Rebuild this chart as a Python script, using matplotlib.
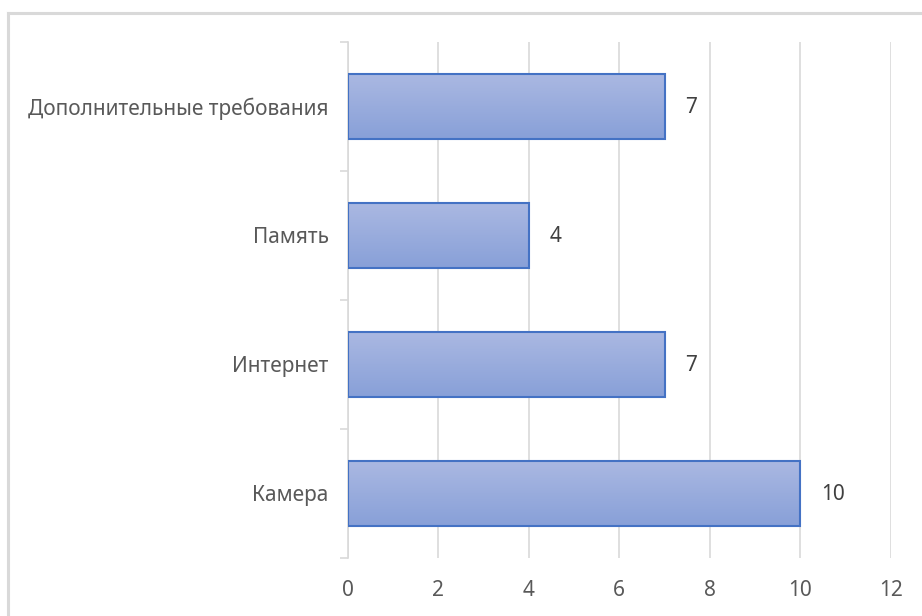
import numpy as np
import matplotlib
matplotlib.use("Agg")
from matplotlib import pyplot as plt
from matplotlib.lines import Line2D

# data
categories = ["Камера", "Интернет", "Память", "Дополнительные требования"]
values = [10, 7, 4, 7]
xticks = [0, 2, 4, 6, 8, 10, 12]

plt.rcParams['font.family'] = ['Noto Sans', 'DejaVu Sans']
grey = "#595959"
fs = 15

fig = plt.figure(figsize=(9.22, 6.16), dpi=100)
ax = fig.add_axes([0.3774, 0.0942, 0.966 - 0.3774, 0.9318 - 0.0942])

# outer chart border (left + top only, the rest is cropped)
fig.add_artist(Line2D([0.0087, 0.0087], [0, 1 - 13 / 616], color="#d9d9d9", lw=2.2,
                      transform=fig.transFigure))
fig.add_artist(Line2D([0.0087, 1], [1 - 13 / 616, 1 - 13 / 616], color="#d9d9d9", lw=2.2,
                      transform=fig.transFigure))

y = np.arange(len(categories))
h = 0.5

# gradient image for bars
top_c = np.array([170, 184, 226]) / 255
bot_c = np.array([136, 160, 216]) / 255
t = np.linspace(0, 1, 64)[:, None]
grad = (top_c * (1 - t) + bot_c * t)[:, None, :]

for yi, v in zip(y, values):
    ax.imshow(grad, extent=[0, v, yi - h / 2, yi + h / 2], aspect="auto",
              origin="upper", zorder=2, interpolation="bilinear")
bars = ax.barh(y, values, height=h, facecolor="none", edgecolor="#4472c4",
               linewidth=1.5, zorder=3)

for yi, v in zip(y, values):
    ax.annotate(str(v), (v, yi), xytext=(15, -1), textcoords="offset points",
                ha="left", va="center", fontsize=fs, color="#404040")

ax.set_xlim(0, 12)
ax.set_ylim(-0.5, len(categories) - 0.5)
ax.set_xticks(xticks)
ax.set_xticklabels([str(x) for x in xticks], fontsize=fs, color=grey)
ax.set_yticks(y)
ax.set_yticklabels(categories, fontsize=fs, color=grey)
ax.set_yticks(np.arange(-0.5, len(categories)), minor=True)

ax.grid(axis="x", color="#d9d9d9", linewidth=1.2, zorder=0)
ax.set_axisbelow(True)
for s in ["top", "right", "bottom"]:
    ax.spines[s].set_visible(False)
ax.spines["left"].set_color("#d9d9d9")
ax.spines["left"].set_linewidth(1.2)

ax.tick_params(axis="x", length=0, pad=16)
ax.tick_params(axis="y", which="major", length=0, pad=14)
ax.tick_params(axis="y", which="minor", length=6, color="#d9d9d9", width=1.2)

fig.savefig("out.png", dpi=100, facecolor="white")
